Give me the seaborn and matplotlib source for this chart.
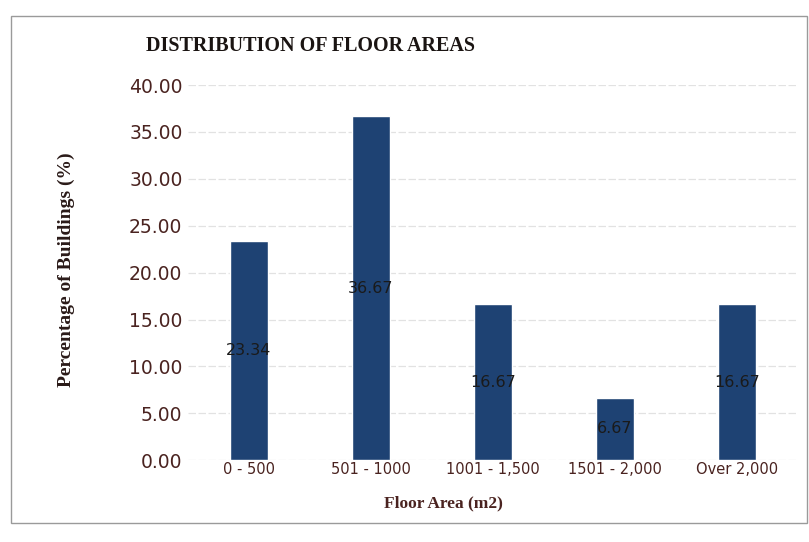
import matplotlib
matplotlib.use("Agg")
import matplotlib.pyplot as plt
import seaborn as sns
import pandas as pd
from matplotlib.patches import Rectangle

# Share of buildings by floor-area band
categories = ["0 - 500", "501 - 1000", "1001 - 1,500", "1501 - 2,000", "Over 2,000"]
percentages = [23.34, 36.67, 16.67, 6.67, 16.67]
y_ticks = [0, 5, 10, 15, 20, 25, 30, 35, 40]

df = pd.DataFrame({"Floor Area": categories, "Percentage": percentages})

sns.set_theme(style="white")
plt.rcParams["font.family"] = ["DejaVu Sans"]

text_color = "#4a2320"
bar_color = "#1e4273"

fig = plt.figure(figsize=(8.09, 5.42), dpi=100)
ax = fig.add_axes([188 / 809, 0.151, 610 / 809, 0.692])

sns.barplot(data=df, x="Floor Area", y="Percentage", color=bar_color,
            width=0.31, saturation=1, ax=ax, zorder=3)

ax.set_ylim(0, 40)
ax.set_yticks(y_ticks)
ax.set_yticklabels([f"{v:.2f}" for v in y_ticks], fontsize=13.5, color=text_color)
ax.tick_params(axis="x", labelsize=10.5, colors=text_color, length=0, pad=1)
ax.tick_params(axis="y", length=0, pad=4)
ax.grid(axis="y", color="#e2e2e2", linewidth=0.9, linestyle=(0, (6, 2)), zorder=0)
for s in ax.spines.values():
    s.set_visible(False)

for container in ax.containers:
    ax.bar_label(container, labels=[f"{v:.2f}" for v in percentages],
                 label_type="center", fontsize=11.5, color="#1a1a1a")

ax.set_xlabel("Floor Area (m2)", fontsize=12.5, fontweight="bold",
              family="Liberation Serif", color=text_color)
ax.xaxis.set_label_coords((443 - 188) / 610, -0.093)
ax.set_ylabel("Percentage of Buildings (%)", fontsize=14, fontweight="bold",
              family="Liberation Serif", color="#2a1a18")
ax.yaxis.set_label_coords(-(188 - 75) / 610, 0.507)

fig.text(310 / 809, 0.915, "DISTRIBUTION OF FLOOR AREAS", ha="center", va="center",
         fontsize=14.5, fontweight="bold", family="Liberation Serif", color="#1a1412")

fig.patches.append(Rectangle((0.014, 0.035), 0.984, 0.935, transform=fig.transFigure,
                             fill=False, edgecolor="#9a9a9a", linewidth=1.0))

fig.savefig("out.png", dpi=100, facecolor="white")
